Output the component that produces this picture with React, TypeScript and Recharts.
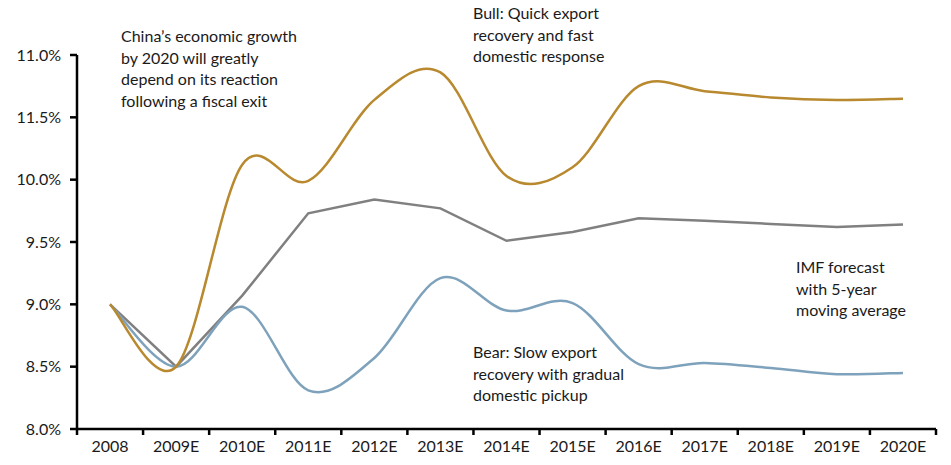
import { LineChart, Line, XAxis, YAxis } from "recharts"

// categories and values
const years = ["2008", "2009E", "2010E", "2011E", "2012E", "2013E", "2014E", "2015E", "2016E", "2017E", "2018E", "2019E", "2020E"]
const bull = [9.0, 8.5, 10.12, 9.99, 10.64, 10.86, 10.03, 10.1, 10.75, 10.71, 10.66, 10.64, 10.65]
const imf = [9.0, 8.5, 9.07, 9.73, 9.84, 9.77, 9.51, 9.58, 9.69, 9.67, 9.645, 9.62, 9.64]
const bear = [9.0, 8.5, 8.98, 8.31, 8.57, 9.21, 8.95, 9.01, 8.52, 8.53, 8.49, 8.44, 8.45]
const yTicks = [8, 8.5, 9, 9.5, 10, 10.5, 11]
const yTickLabels = ["8.0%", "8.5%", "9.0%", "9.5%", "10.0%", "11.5%", "11.0%"]

const data = years.map((y, i) => ({ x: i + 0.5, year: y, bull: bull[i], imf: imf[i], bear: bear[i] }))
const xTicks = years.map((_, i) => i).concat(years.length)

const W = 951
const H = 465
const LEFT = 77
const RIGHT = 15
const BAND = (W - LEFT - RIGHT) / years.length

const FONT = "Lato, 'Open Sans', sans-serif"
const TEXT = "#1a1a1a"

// excel-like smoothed line (catmull-rom as bezier)
function smooth(context: any) {
    let pts: number[][] = []
    return {
        areaStart() {},
        areaEnd() {},
        lineStart() {
            pts = []
        },
        point(x: number, y: number) {
            pts.push([+x, +y])
        },
        lineEnd() {
            if (!pts.length) return
            context.moveTo(pts[0][0], pts[0][1])
            for (let i = 0; i < pts.length - 1; i++) {
                const p0 = pts[i - 1] || pts[i]
                const p1 = pts[i]
                const p2 = pts[i + 1]
                const p3 = pts[i + 2] || p2
                context.bezierCurveTo(
                    p1[0] + (p2[0] - p0[0]) / 6,
                    p1[1] + (p2[1] - p0[1]) / 6,
                    p2[0] - (p3[0] - p1[0]) / 6,
                    p2[1] - (p3[1] - p1[1]) / 6,
                    p2[0],
                    p2[1]
                )
            }
        },
    }
}

function XTick(props: any) {
    const { x, y, payload } = props
    const label = years[payload.value]
    if (!label) return null
    return (
        <text x={x + BAND / 2} y={y} dy="0.71em" textAnchor="middle" fontSize={16} fill={TEXT} fontFamily={FONT}>
            {label}
        </text>
    )
}

function YTick(props: any) {
    const { x, y, index } = props
    return (
        <text x={x} y={y} dy="0.355em" textAnchor="end" fontSize={16} fill={TEXT} fontFamily={FONT}>
            {yTickLabels[index]}
        </text>
    )
}

const notes = [
    { left: 121, top: 25, lines: ["China\u2019s economic growth", "by 2020 will greatly", "depend on its reaction", "following a fiscal exit"] },
    { left: 473, top: 2, lines: ["Bull: Quick export", "recovery and fast", "domestic response"] },
    { left: 796, top: 256, lines: ["IMF forecast", "with 5-year", "moving average"] },
    { left: 473, top: 341, lines: ["Bear: Slow export", "recovery with gradual", "domestic pickup"] },
]

export default function App() {
    return (
        <div style={{ position: "absolute", left: 0, top: 0, width: W, height: H, background: "#fff" }}>
            <LineChart width={W} height={H} data={data} margin={{ top: 55, right: RIGHT, bottom: 6, left: 0 }}>
                <XAxis
                    dataKey="x"
                    type="number"
                    domain={[0, years.length]}
                    ticks={xTicks}
                    interval={0}
                    height={30}
                    tickSize={6}
                    tickMargin={6}
                    stroke="#000"
                    strokeWidth={2.5}
                    tick={<XTick />}
                />
                <YAxis
                    domain={[8, 11]}
                    ticks={yTicks}
                    interval={0}
                    width={LEFT}
                    tickSize={7}
                    tickMargin={9}
                    stroke="#000"
                    strokeWidth={2.5}
                    tick={<YTick />}
                />
                <Line dataKey="imf" type="linear" stroke="#808080" strokeWidth={2.5} dot={false} isAnimationActive={false} />
                <Line dataKey="bear" type={smooth as any} stroke="#7ea2bb" strokeWidth={2.5} dot={false} isAnimationActive={false} />
                <Line dataKey="bull" type={smooth as any} stroke="#b8892e" strokeWidth={2.5} dot={false} isAnimationActive={false} />
            </LineChart>
            {notes.map((n, i) => (
                <div
                    key={i}
                    style={{
                        position: "absolute",
                        left: n.left,
                        top: n.top,
                        fontFamily: FONT,
                        fontSize: 16,
                        lineHeight: "21.5px",
                        color: TEXT,
                        whiteSpace: "nowrap",
                    }}
                >
                    {n.lines.map((l, j) => (
                        <div key={j}>{l}</div>
                    ))}
                </div>
            ))}
        </div>
    )
}
